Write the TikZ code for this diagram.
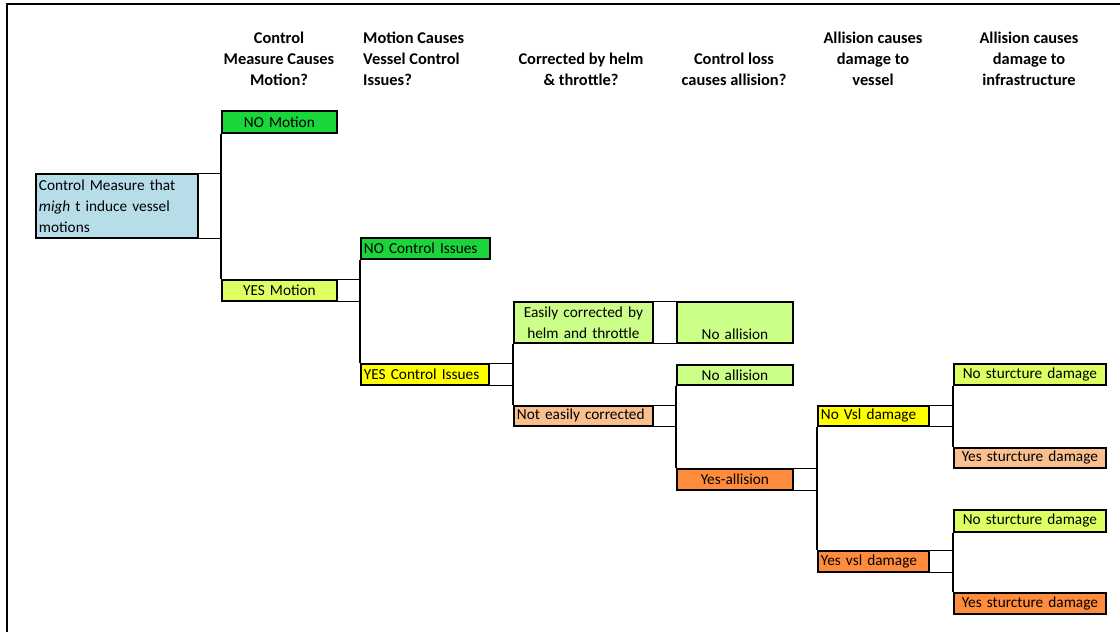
\documentclass[tikz,border=0pt]{standalone}
\usepackage{fontspec}
\setmainfont{Carlito}
\definecolor{cgreen}{RGB}{26,214,58}
\definecolor{cblue}{RGB}{183,221,232}
\definecolor{clime}{RGB}{221,255,98}
\definecolor{clight}{RGB}{204,255,136}
\definecolor{cyellow}{RGB}{255,255,0}
\definecolor{cpeach}{RGB}{250,191,143}
\definecolor{corange}{RGB}{255,140,60}
\tikzset{
  box/.style={draw=black, line width=1.8pt, anchor=north west, inner xsep=3pt, inner ysep=0pt,
    font=\fontsize{15.3}{21}\selectfont, text=black},
  lbox/.style={box, align=left},
  cbox/.style={box, align=center},
  size/.style 2 args={minimum width=#1pt, minimum height=#2pt, text width=#1pt-6pt},
  cell/.style={draw=black, line width=1pt},
  branch/.style={draw=black, line width=2pt},
  head/.style={font=\bfseries\fontsize{16.4}{21}\selectfont, text=black, inner sep=0pt},
}
\begin{document}
\begin{tikzpicture}[x=1pt,y=-1pt]
\useasboundingbox (0,0) rectangle (1120,632);
% sheet frame
\draw[line width=1.6pt] (7,632) -- (7,4) -- (1120,4);

% column headings
\node[head, align=center] (h1) at (279,59) {Control\\Measure Causes\\Motion?};
\node[head, align=left, anchor=west] (h2) at (363,59) {Motion Causes\\Vessel Control\\Issues?};
\node[head, align=center] (h3) at (581,69.5) {Corrected by helm\\\& throttle?};
\node[head, align=center] (h4) at (734,69.5) {Control loss\\causes allision?};
\node[head, align=center] (h5) at (873,59) {Allision causes\\damage to\\vessel};
\node[head, align=center] (h6) at (1029,59) {Allision causes\\damage to\\infrastructure};

% outcome boxes
\node[lbox, fill=cblue, size={162}{64}] (root) at (35,173) {Control Measure that\\\textit{migh} t induce vessel\\motions};
\node[cbox, fill=cgreen, size={115}{22}] (nomot) at (221,110) {NO Motion};
\node[cbox, fill=clime, size={115}{21}] (yesmot) at (221,279) {YES Motion};
\node[lbox, fill=cgreen, size={129}{21}] (noctl) at (360,237) {NO Control Issues};
\node[lbox, fill=cyellow, size={128}{21}] (yesctl) at (360,363) {YES Control Issues};
\node[cbox, fill=clight, size={139}{41}] (easy) at (513,301) {Easily corrected by\\helm and throttle};
\node[cbox, fill=clight, size={116}{41}] (noall1) at (676,301) {\rule{0pt}{14pt}\\No allision};
\node[lbox, fill=cpeach, size={139}{20}] (noteasy) at (513,405) {Not easily corrected};
\node[cbox, fill=clight, size={116}{20}] (noall2) at (676,364) {No allision};
\node[cbox, fill=corange, size={116}{21}] (yesall) at (676,468) {Yes-allision};
\node[lbox, fill=cyellow, size={111}{20}] (novsl) at (817,405) {No Vsl damage};
\node[lbox, fill=corange, size={111}{21}] (yesvsl) at (817,550) {Yes vsl damage};
\node[cbox, fill=clime, size={152}{21}] (nos1) at (953,363) {No sturcture damage};
\node[cbox, fill=cpeach, size={152}{20}] (yess1) at (953,447) {Yes sturcture damage};
\node[cbox, fill=clime, size={152}{22}] (nos2) at (953,509) {No sturcture damage};
\node[cbox, fill=corange, size={152}{21}] (yess2) at (953,592) {Yes sturcture damage};

% branch lines joining the two outcomes of each question
\draw[branch] (nomot.south west) -- (yesmot.north west);
\draw[branch] (noctl.south west) -- (yesctl.north west);
\draw[branch] (easy.south west) -- (noteasy.north west);
\draw[branch] (noall2.south west) -- (yesall.north west);
\draw[branch] (novsl.south west) -- (yesvsl.north west);
\draw[branch] (nos1.south west) -- (yess1.north west);
\draw[branch] (nos2.south west) -- (yess2.north west);

% linking cells from each box to its branch
\draw[cell] (root.north east) -- (root.north east -| nomot.west)
            (root.south east) -- (root.south east -| nomot.west);
\draw[cell] (yesmot.north east) -- (yesmot.north east -| noctl.west)
            (yesmot.south east) -- (yesmot.south east -| noctl.west);
\draw[cell] (yesctl.north east) -- (yesctl.north east -| easy.west)
            (yesctl.south east) -- (yesctl.south east -| easy.west);
\draw[cell] (easy.north east) -- (noall1.north west)
            (easy.south east) -- (noall1.south west);
\draw[cell] (noteasy.north east) -- (noteasy.north east -| noall2.west)
            (noteasy.south east) -- (noteasy.south east -| noall2.west);
\draw[cell] (yesall.north east) -- (yesall.north east -| novsl.west)
            (yesall.south east) -- (yesall.south east -| novsl.west);
\draw[cell] (novsl.north east) -- (novsl.north east -| nos1.west)
            (novsl.south east) -- (novsl.south east -| nos1.west);
\draw[cell] (yesvsl.north east) -- (yesvsl.north east -| nos2.west)
            (yesvsl.south east) -- (yesvsl.south east -| nos2.west);
\end{tikzpicture}
\end{document}
